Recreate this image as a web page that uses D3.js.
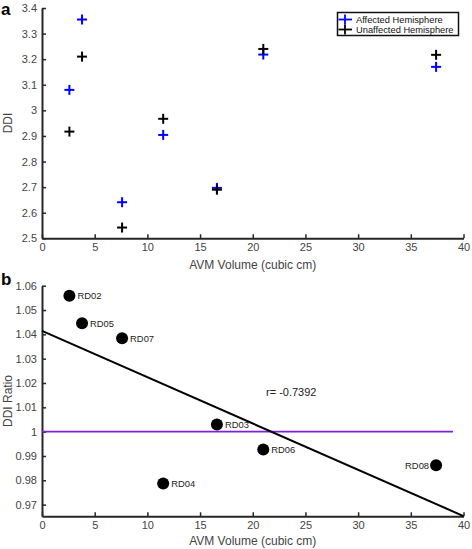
<!DOCTYPE html>
<html><head><meta charset="utf-8">
<script src="https://cdn.jsdelivr.net/npm/d3@7"></script>
<style>
body{margin:0;background:#fff;}
svg{display:block;font-family:"Liberation Sans",Arial,sans-serif;}
</style></head>
<body><svg id="c" width="472" height="549"></svg>
<script>
// ---- data ----
const volume = [2.6, 3.8, 7.6, 11.5, 16.6, 21.0, 37.4];
const affected = [3.080, 3.355, 2.641, 2.904, 2.697, 3.218, 3.170];
const unaffected = [2.917, 3.210, 2.542, 2.967, 2.690, 3.240, 3.217];
const ratio = [1.0559, 1.0446, 1.0384, 0.9787, 1.0029, 0.9927, 0.9862];
const ids = ["RD02", "RD05", "RD07", "RD04", "RD03", "RD06", "RD08"];
const fitX = [0, 40];
const fitY = [1.0414, 0.9653];
const refX = [0, 39];
const refY = [1, 1];
const xTicks = [0, 5, 10, 15, 20, 25, 30, 35, 40];
const yTicksA = [2.5, 2.6, 2.7, 2.8, 2.9, 3.0, 3.1, 3.2, 3.3, 3.4];
const yTicksB = [0.97, 0.98, 0.99, 1.00, 1.01, 1.02, 1.03, 1.04, 1.05, 1.06];
const legendLabels = ["Affected Hemisphere", "Unaffected Hemisphere"];
const corrText = "r= -0.7392";

const svg = d3.select("#c");
const axisColor = "#262626";
const tickColor = "#444";

function styleAxis(g){
  g.select(".domain").attr("stroke", axisColor).attr("stroke-width", 2);
  g.selectAll(".tick line").attr("stroke", axisColor).attr("stroke-width", 1.5);
  g.selectAll(".tick text").attr("fill", tickColor).attr("font-size", 11).attr("font-family", "Liberation Sans, Arial, sans-serif");
}

// ---- panel a ----
const xa = d3.scaleLinear().domain([0, 40]).range([42, 463.5]);
const ya = d3.scaleLinear().domain([2.5, 3.4]).range([238.3, 8.0]);

const gxa = svg.append("g").attr("transform", `translate(0,${ya(2.5)})`)
  .call(d3.axisBottom(xa).tickValues(xTicks).tickSizeInner(-4).tickSizeOuter(0).tickPadding(5).tickFormat(d3.format("d")));
styleAxis(gxa);
const gya = svg.append("g").attr("transform", `translate(${xa(0)},0)`)
  .call(d3.axisLeft(ya).tickValues(yTicksA).tickSizeInner(-4).tickSizeOuter(0).tickPadding(5).tickFormat(d => String(+d.toFixed(1))));
styleAxis(gya);

function cross(g, x, y, color, s){
  g.append("line").attr("x1", x - s).attr("x2", x + s).attr("y1", y).attr("y2", y).attr("stroke", color).attr("stroke-width", 2);
  g.append("line").attr("x1", x).attr("x2", x).attr("y1", y - s).attr("y2", y + s).attr("stroke", color).attr("stroke-width", 2);
}
const ma = svg.append("g");
volume.forEach((v, i) => cross(ma, xa(v), ya(affected[i]), "#0000ff", 5));
volume.forEach((v, i) => cross(ma, xa(v), ya(unaffected[i]), "#000000", 5));

// legend
const lg = svg.append("g");
lg.append("rect").attr("x", 337.5).attr("y", 12.5).attr("width", 121).attr("height", 23)
  .attr("fill", "#fff").attr("stroke", "#111").attr("stroke-width", 1.5);
["#0000ff", "#000000"].forEach((c, i) => {
  const yy = 19.5 + i * 10;
  lg.append("line").attr("x1", 338.5).attr("x2", 352).attr("y1", yy).attr("y2", yy).attr("stroke", c).attr("stroke-width", 1.8);
  lg.append("line").attr("x1", 345).attr("x2", 345).attr("y1", yy - 5).attr("y2", yy + 5).attr("stroke", c).attr("stroke-width", 1.8);
  lg.append("text").attr("x", 356).attr("y", yy + 3.3).attr("font-size", 9.3).attr("fill", "#111").text(legendLabels[i]);
});

svg.append("text").attr("x", xa(20)).attr("y", 269).attr("text-anchor", "middle").attr("font-size", 12).attr("fill", tickColor).text("AVM Volume (cubic cm)");
svg.append("text").attr("transform", "translate(12,123) rotate(-90)").attr("text-anchor", "middle").attr("font-size", 12).attr("fill", tickColor).text("DDI");
svg.append("text").attr("x", 1).attr("y", 15).attr("font-size", 17).attr("font-weight", "bold").attr("fill", "#000").text("a");

// ---- panel b ----
const xb = d3.scaleLinear().domain([0, 40]).range([42, 463.5]);
const yb = d3.scaleLinear().domain([0.9652, 1.06]).range([516.3, 285.7]);

const gxb = svg.append("g").attr("transform", `translate(0,${yb(0.9652)})`)
  .call(d3.axisBottom(xb).tickValues(xTicks).tickSizeInner(-4).tickSizeOuter(0).tickPadding(5).tickFormat(d3.format("d")));
styleAxis(gxb);
const gyb = svg.append("g").attr("transform", `translate(${xb(0)},0)`)
  .call(d3.axisLeft(yb).tickValues(yTicksB).tickSizeInner(-4).tickSizeOuter(0).tickPadding(5).tickFormat(d => String(+d.toFixed(2))));
styleAxis(gyb);

const line = d3.line().x(d => xb(d[0])).y(d => yb(d[1]));
svg.append("path").datum(refX.map((x, i) => [x, refY[i]])).attr("d", line)
  .attr("fill", "none").attr("stroke", "#7d1fdc").attr("stroke-width", 1.8);
svg.append("path").datum(fitX.map((x, i) => [x, fitY[i]])).attr("d", line)
  .attr("fill", "none").attr("stroke", "#000").attr("stroke-width", 2);

const mb = svg.append("g");
volume.forEach((v, i) => {
  mb.append("circle").attr("cx", xb(v)).attr("cy", yb(ratio[i])).attr("r", 6).attr("fill", "#000");
  const right = ids[i] !== "RD08";
  mb.append("text").attr("x", xb(v) + (right ? 8 : -7)).attr("y", yb(ratio[i]) + 3.5)
    .attr("text-anchor", right ? "start" : "end").attr("font-size", 9.5).attr("fill", "#222")
    .attr("textLength", 24).attr("lengthAdjust", "spacingAndGlyphs").text(ids[i]);
});
svg.append("text").attr("x", 266).attr("y", 396).attr("font-size", 11).attr("fill", "#222").text(corrText);

svg.append("text").attr("x", xb(20)).attr("y", 545).attr("text-anchor", "middle").attr("font-size", 12).attr("fill", tickColor).text("AVM Volume (cubic cm)");
svg.append("text").attr("transform", "translate(12,401) rotate(-90)").attr("text-anchor", "middle").attr("font-size", 12).attr("fill", tickColor).text("DDI Ratio");
svg.append("text").attr("x", 1).attr("y", 285).attr("font-size", 17).attr("font-weight", "bold").attr("fill", "#000").text("b");
</script></body></html>
